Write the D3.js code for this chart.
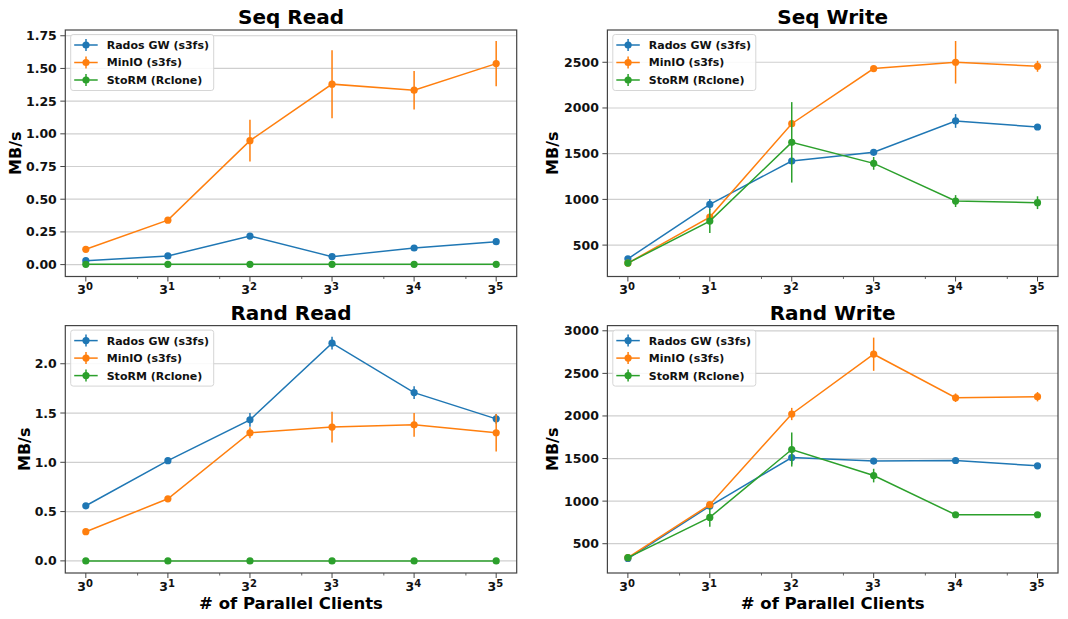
<!DOCTYPE html>
<html>
<head>
<meta charset="utf-8">
<script src="https://cdn.jsdelivr.net/npm/d3@7"></script>
<style>
  body { margin: 0; background: #fff; }
  svg { font-family: "DejaVu Sans", sans-serif; font-weight: bold; }
</style>
</head>
<body>
<div id="chart"></div>
<script>
// x values: number of parallel clients (3^0 .. 3^5)
const clients = [1, 3, 9, 27, 81, 243];
const seriesNames = ["Rados GW (s3fs)", "MinIO (s3fs)", "StoRM (Rclone)"];
const seriesColors = ["#1f77b4", "#ff7f0e", "#2ca02c"];

// Seq Read (MB/s)
const seqReadRados = [0.030, 0.066, 0.218, 0.061, 0.127, 0.175];
const seqReadRadosErr = [0.005, 0.006, 0.01, 0.006, 0.008, 0.01];
const seqReadMinio = [0.117, 0.340, 0.948, 1.380, 1.334, 1.537];
const seqReadMinioErr = [0.01, 0.012, 0.16, 0.26, 0.147, 0.173];
const seqReadStorm = [0.002, 0.002, 0.002, 0.002, 0.002, 0.002];
const seqReadStormErr = [0, 0, 0, 0, 0, 0];

// Seq Write (MB/s)
const seqWriteRados = [350, 945, 1420, 1515, 1858, 1792];
const seqWriteRadosErr = [15, 60, 20, 20, 75, 20];
const seqWriteMinio = [303, 807, 1828, 2431, 2500, 2456];
const seqWriteMinioErr = [10, 30, 20, 15, 233, 60];
const seqWriteStorm = [303, 763, 1624, 1394, 982, 964];
const seqWriteStormErr = [10, 130, 440, 70, 65, 70];

// Rand Read (MB/s)
const randReadRados = [0.559, 1.017, 1.431, 2.209, 1.707, 1.441];
const randReadRadosErr = [0.01, 0.01, 0.07, 0.065, 0.065, 0.05];
const randReadMinio = [0.296, 0.630, 1.300, 1.357, 1.380, 1.300];
const randReadMinioErr = [0.01, 0.01, 0.055, 0.155, 0.12, 0.19];
const randReadStorm = [0, 0, 0, 0, 0, 0];
const randReadStormErr = [0, 0, 0, 0, 0, 0];

// Rand Write (MB/s)
const randWriteRados = [326, 942, 1512, 1470, 1477, 1415];
const randWriteRadosErr = [10, 30, 80, 10, 15, 10];
const randWriteMinio = [337, 958, 2023, 2725, 2214, 2226];
const randWriteMinioErr = [10, 20, 72, 195, 50, 55];
const randWriteStorm = [337, 809, 1606, 1300, 840, 840];
const randWriteStormErr = [10, 110, 200, 80, 30, 15];

// y tick values per panel
const seqReadTicks = [0, 0.25, 0.5, 0.75, 1.0, 1.25, 1.5, 1.75];
const seqWriteTicks = [500, 1000, 1500, 2000, 2500];
const randReadTicks = [0, 0.5, 1.0, 1.5, 2.0];
const randWriteTicks = [500, 1000, 1500, 2000, 2500, 3000];

const panels = [
  { title: "Seq Read", left: 65.3, top: 30, right: 516.7, bottom: 276.5,
    yDomain: [-0.091, 1.794], ticks: seqReadTicks, fmt: d3.format(".2f"), ylabOff: 50, xlab: false,
    series: [[seqReadRados, seqReadRadosErr], [seqReadMinio, seqReadMinioErr], [seqReadStorm, seqReadStormErr]] },
  { title: "Seq Write", left: 607.4, top: 30, right: 1058, bottom: 276.5,
    yDomain: [156.5, 2853], ticks: seqWriteTicks, fmt: d3.format("d"), ylabOff: 55, xlab: false,
    series: [[seqWriteRados, seqWriteRadosErr], [seqWriteMinio, seqWriteMinioErr], [seqWriteStorm, seqWriteStormErr]] },
  { title: "Rand Read", left: 65.3, top: 325.6, right: 516.7, bottom: 573,
    yDomain: [-0.123, 2.387], ticks: randReadTicks, fmt: d3.format(".1f"), ylabOff: 41.5, xlab: true,
    series: [[randReadRados, randReadRadosErr], [randReadMinio, randReadMinioErr], [randReadStorm, randReadStormErr]] },
  { title: "Rand Write", left: 607.4, top: 325.6, right: 1058, bottom: 573,
    yDomain: [156, 3061], ticks: randWriteTicks, fmt: d3.format("d"), ylabOff: 55, xlab: true,
    series: [[randWriteRados, randWriteRadosErr], [randWriteMinio, randWriteMinioErr], [randWriteStorm, randWriteStormErr]] }
];

const svg = d3.select("#chart").append("svg")
  .attr("width", 1068)
  .attr("height", 619);

const frameColor = "#444";
const gridColor = "#cfcfcf";

panels.forEach(p => {
  const g = svg.append("g");

  const x = d3.scaleLog().base(3)
    .domain([Math.pow(3, -0.25), Math.pow(3, 5.25)])
    .range([p.left, p.right]);
  const y = d3.scaleLinear()
    .domain(p.yDomain)
    .range([p.bottom, p.top]);

  // horizontal grid
  g.selectAll("line.grid")
    .data(p.ticks)
    .enter()
    .append("line")
    .attr("x1", p.left).attr("x2", p.right)
    .attr("y1", d => y(d)).attr("y2", d => y(d))
    .attr("stroke", gridColor)
    .attr("stroke-width", 1.2);

  // y ticks + labels
  g.selectAll("line.ytick")
    .data(p.ticks)
    .enter()
    .append("line")
    .attr("x1", p.left - 5).attr("x2", p.left)
    .attr("y1", d => y(d)).attr("y2", d => y(d))
    .attr("stroke", frameColor)
    .attr("stroke-width", 1);

  g.selectAll("text.ytick")
    .data(p.ticks)
    .enter()
    .append("text")
    .attr("x", p.left - 8.5)
    .attr("y", d => y(d))
    .attr("dy", "0.36em")
    .attr("text-anchor", "end")
    .attr("font-size", "12.5px")
    .attr("fill", "#111")
    .text(d => p.fmt(d));

  // x major ticks + labels
  g.selectAll("line.xtick")
    .data(clients)
    .enter()
    .append("line")
    .attr("x1", d => x(d)).attr("x2", d => x(d))
    .attr("y1", p.bottom).attr("y2", p.bottom + 5)
    .attr("stroke", frameColor)
    .attr("stroke-width", 1);

  // minor ticks at 2*3^k
  const minor = clients.slice(0, 5).map(d => d * 2);
  g.selectAll("line.xminor")
    .data(minor)
    .enter()
    .append("line")
    .attr("x1", d => x(d)).attr("x2", d => x(d))
    .attr("y1", p.bottom).attr("y2", p.bottom + 2.5)
    .attr("stroke", frameColor)
    .attr("stroke-width", 0.8);

  clients.forEach((c, i) => {
    const t = g.append("text")
      .attr("x", x(c) - 0.8)
      .attr("y", p.bottom + 17.5)
      .attr("text-anchor", "middle")
      .attr("fill", "#111")
      .attr("font-size", "12.5px");
    t.append("tspan").text("3");
    t.append("tspan")
      .attr("dy", -3.8)
      .attr("font-size", "10px")
      .text(String(i));
  });

  // frame
  g.append("rect")
    .attr("x", p.left).attr("y", p.top)
    .attr("width", p.right - p.left)
    .attr("height", p.bottom - p.top)
    .attr("fill", "none")
    .attr("stroke", frameColor)
    .attr("stroke-width", 1.2);

  // series
  const line = d3.line()
    .x((d, i) => x(clients[i]))
    .y(d => y(d));

  p.series.forEach(([vals, errs], si) => {
    const color = seriesColors[si];
    const sg = g.append("g");
    sg.selectAll("line.err")
      .data(vals)
      .enter()
      .append("line")
      .attr("x1", (d, i) => x(clients[i]))
      .attr("x2", (d, i) => x(clients[i]))
      .attr("y1", (d, i) => y(d - errs[i]))
      .attr("y2", (d, i) => y(d + errs[i]))
      .attr("stroke", color)
      .attr("stroke-width", 1.5);
    sg.append("path")
      .datum(vals)
      .attr("d", line)
      .attr("fill", "none")
      .attr("stroke", color)
      .attr("stroke-width", 1.5);
    sg.selectAll("circle")
      .data(vals)
      .enter()
      .append("circle")
      .attr("cx", (d, i) => x(clients[i]))
      .attr("cy", d => y(d))
      .attr("r", 3.6)
      .attr("fill", color);
  });

  // legend
  const lg = g.append("g")
    .attr("transform", `translate(${p.left + 5.4}, ${p.top + 4.5})`);
  lg.append("rect")
    .attr("width", 143)
    .attr("height", 56)
    .attr("rx", 2.5)
    .attr("fill", "white")
    .attr("fill-opacity", 0.85)
    .attr("stroke", "#d6d6d6")
    .attr("stroke-width", 1);
  seriesNames.forEach((name, i) => {
    const ry = 10.5 + i * 17.5;
    lg.append("line")
      .attr("x1", 3.5).attr("x2", 27)
      .attr("y1", ry).attr("y2", ry)
      .attr("stroke", seriesColors[i])
      .attr("stroke-width", 1.5);
    lg.append("line")
      .attr("x1", 15.3).attr("x2", 15.3)
      .attr("y1", ry - 6).attr("y2", ry + 6)
      .attr("stroke", seriesColors[i])
      .attr("stroke-width", 1.5);
    lg.append("circle")
      .attr("cx", 15.3).attr("cy", ry)
      .attr("r", 3.6)
      .attr("fill", seriesColors[i]);
    lg.append("text")
      .attr("x", 36)
      .attr("y", ry)
      .attr("dy", "0.36em")
      .attr("font-size", "11px")
      .attr("fill", "#111")
      .text(name);
  });

  // title
  g.append("text")
    .attr("x", (p.left + p.right) / 2)
    .attr("y", p.top - 6)
    .attr("text-anchor", "middle")
    .attr("font-size", "20px")
    .attr("fill", "#000")
    .text(p.title);

  // y label
  const cy = (p.top + p.bottom) / 2;
  const bx = p.left - p.ylabOff + 6;
  g.append("text")
    .attr("transform", `translate(${bx}, ${cy}) rotate(-90)`)
    .attr("text-anchor", "middle")
    .attr("font-size", "16px")
    .attr("fill", "#000")
    .text("MB/s");

  // x label
  if (p.xlab) {
    g.append("text")
      .attr("x", (p.left + p.right) / 2)
      .attr("y", p.bottom + 36)
      .attr("text-anchor", "middle")
      .attr("font-size", "16.5px")
      .attr("fill", "#000")
      .text("# of Parallel Clients");
  }
});
</script>
</body>
</html>
